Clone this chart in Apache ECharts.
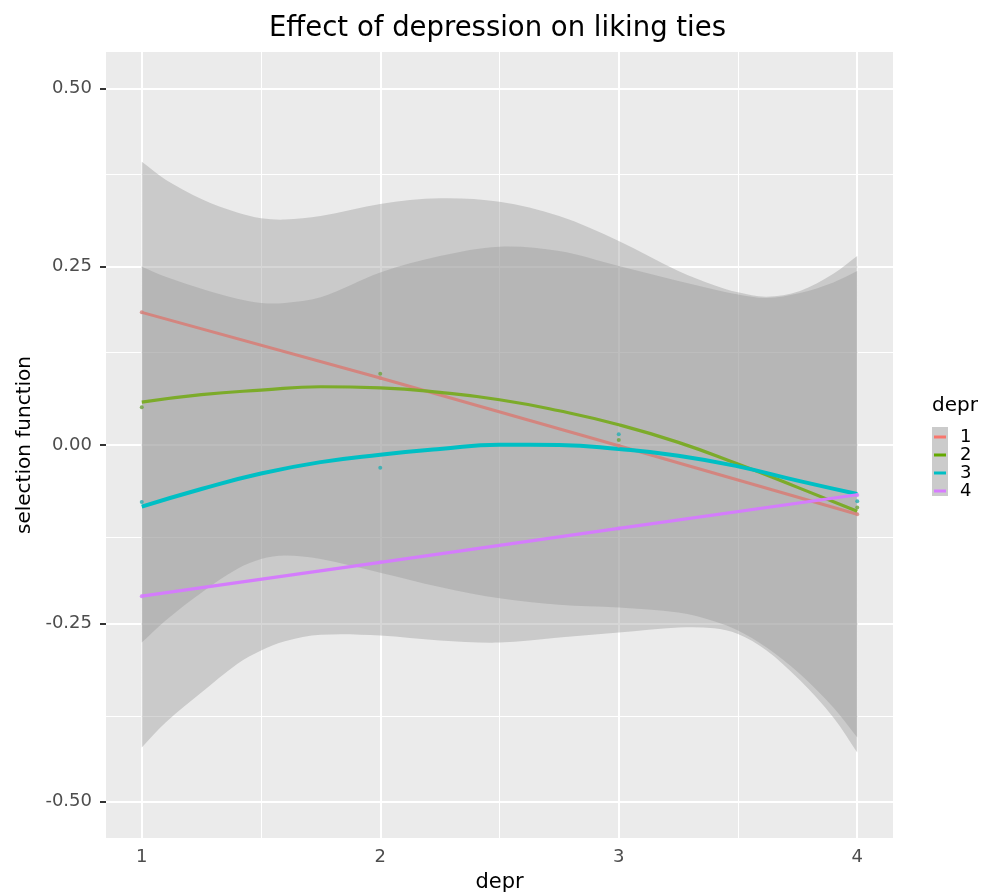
<!DOCTYPE html>
<html><head><meta charset="utf-8">
<script src="https://cdn.jsdelivr.net/npm/echarts@6/dist/echarts.min.js"></script>
<style>html,body{margin:0;padding:0;background:#fff;overflow:hidden}#c{width:995px;height:893px}</style>
</head><body><div id="c"></div>
<script>
// ---- tick / grid values ----
const xTicks = [1, 2, 3, 4];
const yTicks = [-0.5, -0.25, 0, 0.25, 0.5];
const xMinor = [1.5, 2.5, 3.5];
const yMinor = [-0.375, -0.125, 0.125, 0.375];
const groups = ['1', '2', '3', '4'];

// ---- confidence ribbons (outer / inner envelopes) ----
const bandX      = [1, 1.1, 1.25, 1.4, 1.5, 1.6, 1.75, 2, 2.25, 2.5, 2.75, 3, 3.25, 3.4, 3.5, 3.62, 3.76, 3.9, 4];
const outerUpper = [0.397, 0.372, 0.345, 0.326, 0.318, 0.316, 0.321, 0.338, 0.346, 0.341, 0.321, 0.286, 0.244, 0.224, 0.214, 0.208, 0.216, 0.240, 0.265];
const innerUpper = [0.250, 0.236, 0.219, 0.205, 0.199, 0.199, 0.207, 0.242, 0.265, 0.278, 0.272, 0.251, 0.230, 0.218, 0.211, 0.206, 0.213, 0.228, 0.244];
const innerLower = [-0.277, -0.246, -0.207, -0.174, -0.160, -0.155, -0.160, -0.179, -0.199, -0.215, -0.224, -0.228, -0.235, -0.247, -0.260, -0.284, -0.321, -0.368, -0.410];
const outerLower = [-0.424, -0.389, -0.347, -0.307, -0.288, -0.275, -0.266, -0.267, -0.274, -0.277, -0.270, -0.263, -0.256, -0.257, -0.265, -0.288, -0.330, -0.382, -0.431];

// ---- fitted lines ----
const lineX = [1, 2, 3, 4];
const fit1 = [0.186, 0.094, -0.001, -0.097];
const fit4 = [-0.212, -0.1645, -0.117, -0.0697];
const curveX = [1, 1.25, 1.5, 1.75, 2, 2.25, 2.5, 2.75, 3, 3.25, 3.5, 3.75, 4];
const fit2 = [0.060, 0.0705, 0.077, 0.0817, 0.080, 0.0737, 0.0635, 0.048, 0.0285, 0.0037, -0.0267, -0.0594, -0.093];
const fit3 = [-0.0865, -0.0617, -0.040, -0.024, -0.0136, -0.0056, 0.0004, 0.000, -0.0056, -0.015, -0.030, -0.050, -0.0687];

// ---- observed points ----
const ptsX = [1, 2, 3, 4];
const pts1 = [0.186, 0.094, -0.001, -0.097];
const pts2 = [0.053, 0.100, 0.007, -0.0875];
const pts3 = [-0.080, -0.032, 0.015, -0.079];
const pts4 = [-0.212, -0.1645, -0.117, -0.070];

const zip = (xs, ys) => xs.map((x, i) => [x, ys[i]]);

const FONT = 'DejaVu Sans';
const ribbonFill = 'rgba(153,153,153,0.4)';
const lineCols = ['#d3857f', '#7cab2a', '#00bfc4', '#d47cfc'];
const legendCols = ['#f8766d', '#63a800', '#00bfc4', '#d77cff'];
const ptCols = ['#d3857f', '#6ea23c', '#26aeb3', '#d47cfc'];

const gridLines = [].concat(
  xTicks.map(v => ({ xAxis: v, lineStyle: { width: 2 } })),
  xMinor.map(v => ({ xAxis: v, lineStyle: { width: 1 } })),
  yTicks.map(v => ({ yAxis: v, lineStyle: { width: 2 } })),
  yMinor.map(v => ({ yAxis: v, lineStyle: { width: 1 } }))
);

// smooth cubic Hermite path (function of x) through pixel points
function curveSeg(pts) {
  const n = pts.length;
  const slope = i => {
    const a = pts[Math.max(i - 1, 0)], b = pts[Math.min(i + 1, n - 1)];
    return (b[1] - a[1]) / (b[0] - a[0]);
  };
  let d = '';
  for (let i = 0; i < n - 1; i++) {
    const p1 = pts[i], p2 = pts[i + 1];
    const h = p2[0] - p1[0];
    const m1 = slope(i), m2 = slope(i + 1);
    d += ' C' + (p1[0] + h / 3) + ' ' + (p1[1] + m1 * h / 3) + ' ' +
      (p2[0] - h / 3) + ' ' + (p2[1] - m2 * h / 3) + ' ' + p2[0] + ' ' + p2[1];
  }
  return d;
}
function ribbonSeries(name, upper, lower) {
  return {
    name, type: 'custom', z: 2, silent: true,
    data: [[bandX[0], upper[0]]],
    renderItem: function (params, api) {
      const up = bandX.map((x, i) => api.coord([x, upper[i]]));
      const lo = bandX.map((x, i) => api.coord([x, lower[i]])).reverse();
      const d = 'M' + up[0][0] + ' ' + up[0][1] + curveSeg(up) +
        ' L' + lo[0][0] + ' ' + lo[0][1] + curveSeg(lo) + ' Z';
      return { type: 'path', shape: { pathData: d }, style: { fill: ribbonFill, stroke: null } };
    }
  };
}

const chart = echarts.init(document.getElementById('c'), null, { renderer: 'canvas' });

chart.setOption({
  animation: false,
  backgroundColor: '#ffffff',
  title: {
    text: 'Effect of depression on liking ties', left: 'center', top: 10,
    textStyle: { fontFamily: FONT, fontSize: 27.5, fontWeight: 'normal', color: '#000' }
  },
  grid: { left: 106, right: 102, top: 52, bottom: 55, show: true, backgroundColor: '#ebebeb', borderWidth: 0,
    containLabel: false, outerBoundsMode: 'none' },
  xAxis: {
    type: 'value', min: 0.85, max: 4.15,
    name: 'depr', nameLocation: 'middle', nameGap: 34,
    nameTextStyle: { fontFamily: FONT, fontSize: 21, color: '#000' },
    axisLine: { show: false }, splitLine: { show: false },
    axisTick: { show: true, customValues: xTicks, length: 6, lineStyle: { color: '#333', width: 2 } },
    axisLabel: { customValues: xTicks, fontFamily: FONT, fontSize: 18, color: '#4d4d4d', margin: 10 }
  },
  yAxis: {
    type: 'value', min: -0.551, max: 0.551,
    name: 'selection function', nameLocation: 'middle', nameGap: 69, nameRotate: 90,
    nameTextStyle: { fontFamily: FONT, fontSize: 20, color: '#000' },
    axisLine: { show: false }, splitLine: { show: false },
    axisTick: { show: true, customValues: yTicks, length: 6, lineStyle: { color: '#333', width: 2 } },
    axisLabel: { customValues: yTicks, fontFamily: FONT, fontSize: 18, color: '#4d4d4d', margin: 14,
      formatter: v => v.toFixed(2) }
  },
  legend: {
    orient: 'vertical', left: 934, top: 428, padding: 0, itemWidth: 12, itemHeight: 3, itemGap: 0,
    data: groups.map((g, i) => ({ name: g, icon: 'rect', itemStyle: { color: legendCols[i] } })),
    textStyle: { fontFamily: FONT, fontSize: 18, color: '#000', lineHeight: 16, padding: [0, 0, 0, 9] },
    selectedMode: false
  },
  graphic: [
    { type: 'rect', left: 932, top: 427, shape: { width: 16, height: 69 }, style: { fill: '#cbcbcb' }, z: -1 },
    { type: 'text', left: 932, top: 396, style: { text: 'depr', fontFamily: FONT, fontSize: 20, fill: '#000' } }
  ],
  series: [
    { name: 'grid', type: 'line', data: [], symbol: 'none', z: 1, silent: true,
      markLine: { silent: true, z: 1, symbol: ['none', 'none'], label: { show: false }, animation: false,
        lineStyle: { color: '#ffffff', type: 'solid' }, data: gridLines } },
    ribbonSeries('outerBand', outerUpper, outerLower),
    ribbonSeries('innerBand', innerUpper, innerLower),
    { name: '1', type: 'line', data: zip(lineX, fit1), symbol: 'none', z: 3, color: lineCols[0], lineStyle: { width: 3, color: lineCols[0] } },
    { name: '2', type: 'line', data: zip(curveX, fit2), smooth: true, symbol: 'none', z: 3, color: lineCols[1], lineStyle: { width: 3.2, color: lineCols[1] } },
    { name: '3', type: 'line', data: zip(curveX, fit3), smooth: true, symbol: 'none', z: 3, color: lineCols[2], lineStyle: { width: 4, color: lineCols[2] } },
    { name: '4', type: 'line', data: zip(lineX, fit4), symbol: 'none', z: 3, color: lineCols[3], lineStyle: { width: 3.2, color: lineCols[3] } },
    { name: 'p1', type: 'scatter', data: zip(ptsX, pts1), symbolSize: 4, z: 4, itemStyle: { color: ptCols[0] } },
    { name: 'p2', type: 'scatter', data: zip(ptsX, pts2), symbolSize: 4, z: 4, itemStyle: { color: ptCols[1] } },
    { name: 'p3', type: 'scatter', data: zip(ptsX, pts3), symbolSize: 4, z: 4, itemStyle: { color: ptCols[2] } },
    { name: 'p4', type: 'scatter', data: zip(ptsX, pts4), symbolSize: 4, z: 4, itemStyle: { color: ptCols[3] } }
  ]
});
</script></body></html>
